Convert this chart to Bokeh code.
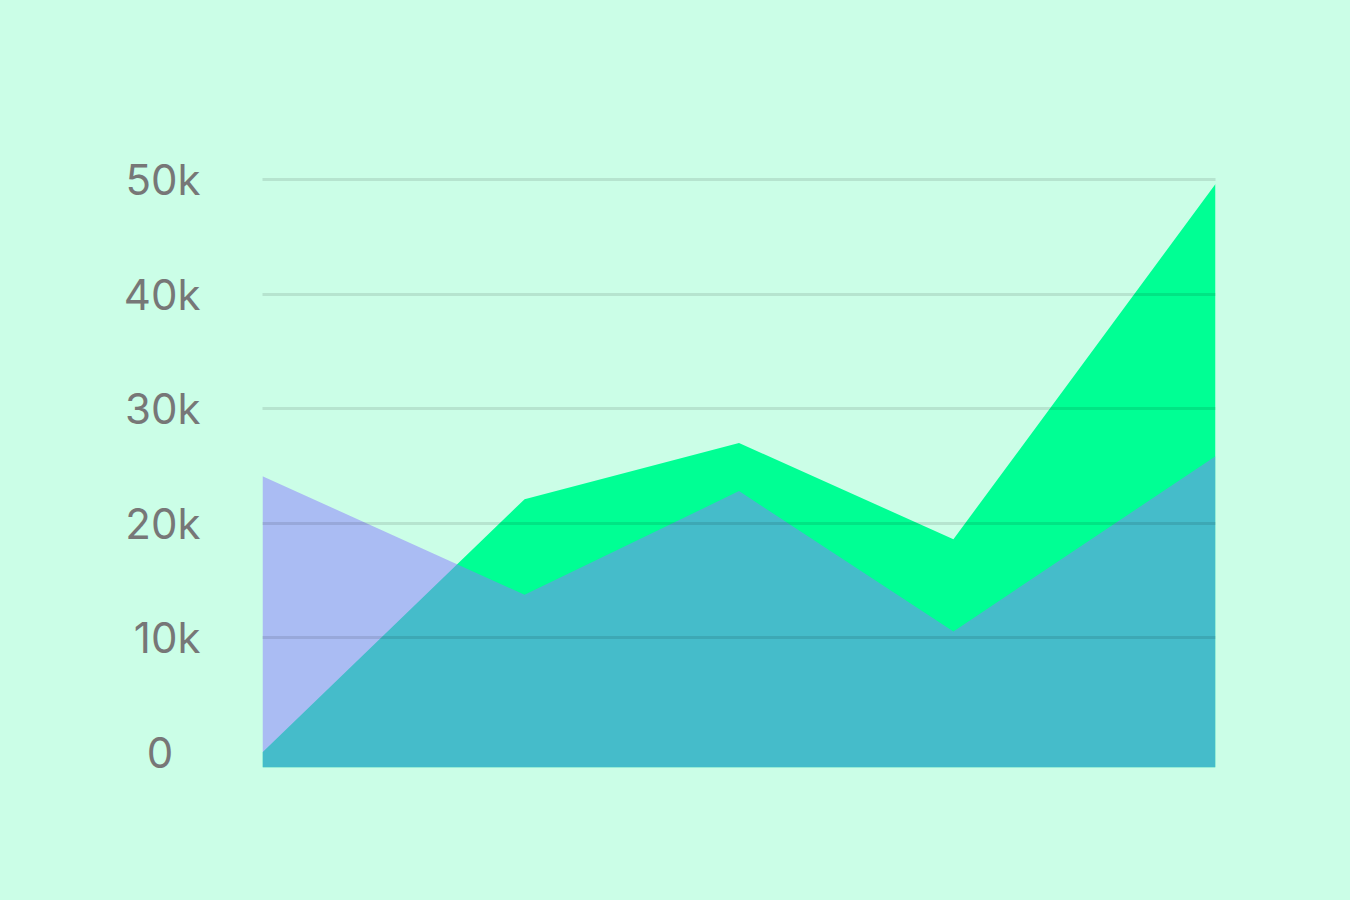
from bokeh.plotting import figure
from bokeh.models import Range1d, FixedTicker
from bokeh.embed import file_html
from bokeh.resources import INLINE

# Data
x_vals = [0, 1.1, 2, 2.9, 4]
green_vals = [0, 22100, 27000, 18600, 49600]
purple_vals = [24100, 13750, 22800, 10550, 25850]
tick_vals = [0, 10000, 20000, 30000, 40000, 50000]
tick_labels = ["0\u2007", "10k", "20k", "30k", "40k", "50k"]
grid_vals = [10000, 20000, 30000, 40000, 50000]

BG = "#cbfee7"
y_start = -1320
y_end = 50780

p = figure(width=1350, height=900, output_backend="svg", toolbar_location=None,
           x_range=Range1d(0, 4), y_range=Range1d(y_start, y_end),
           min_border_left=262, min_border_right=135, min_border_top=170, min_border_bottom=133)
p.background_fill_color = BG
p.border_fill_color = BG
p.outline_line_color = None

baseline = [y_start] * len(x_vals)
p.varea(x=x_vals, y1=baseline, y2=green_vals, fill_color="#00ff94", fill_alpha=1.0)
p.varea(x=x_vals, y1=baseline, y2=purple_vals, fill_color="#8a79ff", fill_alpha=0.5)

p.xaxis.visible = False
p.xgrid.visible = False

ax = p.yaxis[0]
ax.ticker = FixedTicker(ticks=tick_vals)
ax.major_label_overrides = {v: l for v, l in zip(tick_vals, tick_labels)}
ax.axis_line_color = None
ax.major_tick_line_color = None
ax.minor_tick_line_color = None
ax.major_tick_out = 0
ax.major_tick_in = 0
ax.major_label_standoff = 62
ax.major_label_text_font = "Inter"
ax.major_label_text_font_size = "42px"
ax.major_label_text_color = "#777777"

g = p.ygrid[0]
g.ticker = FixedTicker(ticks=grid_vals)
g.grid_line_color = "black"
g.grid_line_alpha = 0.1
g.grid_line_width = 3
g.level = "overlay"

html = file_html(p, INLINE)
html = html.replace("<head>", "<head><style>html,body{background:%s;}</style>" % BG, 1)
open("out.html", "w").write(html)
